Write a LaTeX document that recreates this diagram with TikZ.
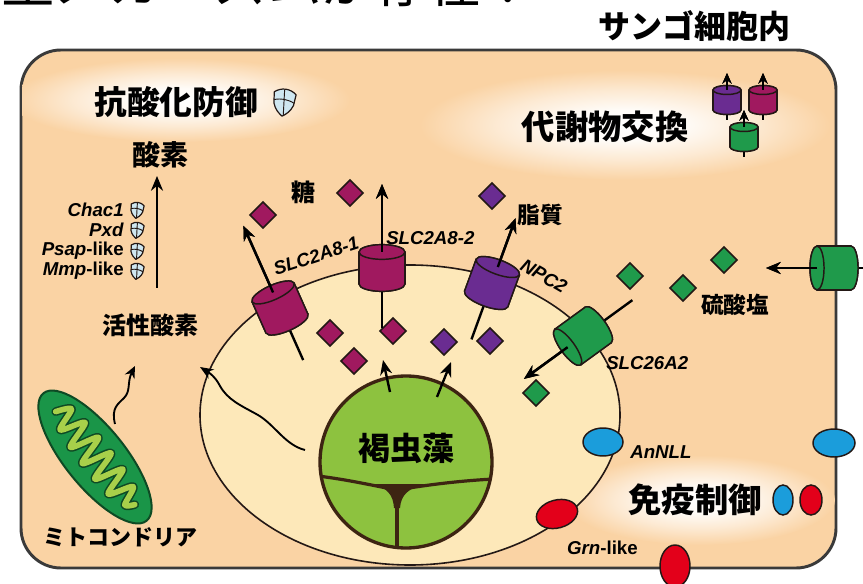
\documentclass[tikz,border=0pt]{standalone}
\usepackage{fontspec}
\setmainfont{Liberation Sans}
\newfontfamily\jp{Noto Sans CJK JP}
\usetikzlibrary{arrows.meta}

\definecolor{cellbg}{HTML}{FAD3A4}
\definecolor{hostbg}{HTML}{FDE8B9}
\definecolor{framec}{HTML}{3A3A3A}
\definecolor{inkdark}{HTML}{231815}
\definecolor{magc}{HTML}{A0195F}
\definecolor{purc}{HTML}{6A2C91}
\definecolor{grnc}{HTML}{1F9A4B}
\definecolor{algaec}{HTML}{8DC23F}
\definecolor{algaeline}{HTML}{3D2412}
\definecolor{mitoc}{HTML}{1A9548}
\definecolor{mitoline}{HTML}{0E4A24}
\definecolor{cristac}{HTML}{A8D04A}
\definecolor{bluec}{HTML}{1B9DDB}
\definecolor{redc}{HTML}{E3001A}
\definecolor{shieldc}{HTML}{CFE7F1}

% radial glow: the path's bounding box maps onto the inner 25bp radius
\pgfdeclareradialshading{glow}{\pgfpoint{0bp}{0bp}}{color(0bp)=(white); color(7bp)=(white!92!cellbg); color(16bp)=(white!50!cellbg); color(25bp)=(cellbg); color(50bp)=(cellbg)}

\newcommand\jpfs[1]{\jp\bfseries\fontsize{#1}{#1}\selectfont}

\tikzset{
  x=0.75pt, y=-0.75pt,
  arr/.style={line width=1.8pt, draw=black, -{Stealth[length=11pt,width=9pt]}},
  smallarr/.style={line width=1.4pt, draw=black, -{Stealth[length=8pt,width=7pt]}},
  cylstroke/.style={draw=inkdark, line width=1.1pt},
  gemstroke/.style={draw=inkdark, line width=1.1pt},
  lbl/.style={inner sep=0pt, text=black},
  latin/.style={lbl, font=\bfseries\itshape\fontsize{14pt}{15pt}\selectfont},
  gene/.style={lbl, anchor=east, font=\bfseries\fontsize{14pt}{15pt}\selectfont},
  pics/cyl/.style n args={5}{code={
    % #1 colour, #2 radius, #3 half height, #4 tail length, #5 tip length
    \coordinate (-top) at (0,-#3);
    \coordinate (-tip) at (0,-#3-#5);
    \coordinate (-tail) at (0,#3+#4);
    \draw[cylstroke, fill=#1] (0,#3) ellipse [x radius=#2, y radius=0.32*#2];
    \fill[#1] (-#2,-#3) rectangle (#2,#3);
    \draw[cylstroke] (-#2,-#3) -- (-#2,#3) (#2,-#3) -- (#2,#3);
    \draw[cylstroke, fill=#1] (0,-#3) ellipse [x radius=#2, y radius=0.32*#2];
  }},
  pics/gem/.style={code={
    \draw[gemstroke, fill=#1] (0,-13) -- (13,0) -- (0,13) -- (-13,0) -- cycle;
  }},
  pics/shield/.style={code={
    \draw[draw=inkdark, line width=0.9pt, fill=shieldc, line join=round]
      (-10,-8) .. controls (-4,-13) and (4,-13) .. (10,-8)
      -- (9,2) .. controls (7,8) and (3,11) .. (0,13)
      .. controls (-3,11) and (-7,8) .. (-9,2) -- cycle;
    \draw[draw=inkdark, line width=0.7pt] (-1,-11.5) -- (1,12) (-9.5,-1) .. controls (-3,-3) and (3,-3) .. (9.5,0);
  }}
}

\begin{document}
\begin{tikzpicture}
\useasboundingbox (0,0) rectangle (863,584);

% heading line cut by the top edge
\node[lbl, anchor=base west, font=\jp\fontsize{40pt}{40pt}\selectfont] (head) at (-52,3) {共生メカニズムが存在！};

% coral cell
\draw[draw=framec, line width=2.2pt, fill=cellbg, rounded corners=30pt] (21,50) rectangle (836,568);

% soft highlights behind the headings, kept inside the cell
\begin{scope}
  \clip[rounded corners=30pt] (22,51) rectangle (835,567);
  \shade[shading=glow] (180,100) ellipse [x radius=170, y radius=42];
  \shade[shading=glow] (625,125) ellipse [x radius=205, y radius=55];
  \shade[shading=glow] (700,500) ellipse [x radius=135, y radius=45];
\end{scope}

% host-derived symbiosome region
\draw[draw=inkdark, line width=1.2pt, fill=hostbg] (410,415) ellipse [x radius=210, y radius=150];

% headings
\node[lbl, font=\jpfs{24pt}] (cellin) at (694,26) {サンゴ細胞内};
\node[lbl, font=\jpfs{24.5pt}] (antiox) at (176,102) {抗酸化防御};
\pic[rotate=-8, scale=1.1] at (284,102) {shield};
\node[lbl, font=\jpfs{25pt}] (metab) at (605,127) {代謝物交換};
\node[lbl, font=\jpfs{25pt}] (immune) at (695,500) {免疫制御};

% oxygen pathway
\node[lbl, font=\jpfs{21pt}] (oxy) at (160,155) {酸素};
\node[lbl, font=\jpfs{18pt}] (ros) at (150,325) {活性酸素};
\coordinate (rosout) at (157,288);
\coordinate (oxyin) at (157,176);
\draw[arr] (rosout) -- (oxyin);

\node[gene] (g1) at (124,210) {\textit{Chac1}};
\node[gene] (g2) at (124,230) {\textit{Pxd}};
\node[gene] (g3) at (124,251) {\textit{Psap}-like};
\node[gene] (g4) at (124,271) {\textit{Mmp}-like};
\foreach \yy in {210,230,251,271} \pic[rotate=-8, scale=0.65] at (137,\yy) {shield};

% mitochondrion
\begin{scope}[shift={(95,457)}, rotate=-51]
  \draw[draw=mitoline, line width=1.5pt, fill=mitoc] (0,0) ellipse [x radius=82, y radius=30];
  \draw[draw=mitoline, line width=6.5pt, line join=round, line cap=round]
    plot[smooth] coordinates {(-60,2) (-52,-12) (-43,10) (-33,-14) (-23,13) (-13,-15) (-3,14) (7,-15) (17,14) (27,-14) (37,13) (47,-11) (56,7) (62,-1)};
  \draw[draw=cristac, line width=4.2pt, line join=round, line cap=round]
    plot[smooth] coordinates {(-60,2) (-52,-12) (-43,10) (-33,-14) (-23,13) (-13,-15) (-3,14) (7,-15) (17,14) (27,-14) (37,13) (47,-11) (56,7) (62,-1)};
\end{scope}
\node[lbl, font=\jpfs{16.5pt}] (mito) at (120,537) {ミトコンドリア};
\coordinate (mitoout) at (115,424);
\coordinate (mitotip) at (135,366);
\draw[line width=1.4pt, -{Stealth[length=9pt,width=8pt]}] (mitoout) .. controls (111,408) and (118,404) .. (124,398) .. controls (131,391) and (127,382) .. (mitotip);

% symbiotic alga
\begin{scope}
  \clip (406,462) circle [radius=86];
  \fill[algaec] (406,462) circle [radius=86];
  \draw[draw=algaeline, line width=2.4pt] (318,476) .. controls (350,480) and (375,486) .. (397,490) .. controls (420,486) and (455,481) .. (494,479);
  \fill[algaeline] (372,484) .. controls (388,488) and (393,495) .. (394,508) -- (400,508) .. controls (401,495) and (408,488) .. (426,484) -- cycle;
  \draw[draw=algaeline, line width=2.4pt] (397,500) -- (397,550);
\end{scope}
\draw[draw=algaeline, line width=2.5pt] (406,462) circle [radius=86];
\node[lbl, font=\jpfs{24pt}] (alga) at (406,448) {褐虫藻};

\coordinate (a1s) at (390,392);
\coordinate (a1e) at (383,360);
\coordinate (a2s) at (437,397);
\coordinate (a2e) at (451,362);
\draw[arr] (a1s) -- (a1e);
\draw[arr] (a2s) -- (a2e);

\coordinate (waves) at (305,450);
\coordinate (wavee) at (200,367);
\draw[line width=1.4pt, -{Stealth[length=10pt,width=8pt]}] (waves) .. controls (285,445) and (275,425) .. (258,415) .. controls (240,405) and (228,400) .. (220,386) .. controls (215,376) and (208,372) .. (wavee);

% sugars and lipids
\node[lbl, font=\jpfs{18pt}] (sugar) at (303,192) {糖};
\node[lbl, font=\jpfs{17pt}] (lipid) at (540,215) {脂質};
\pic at (263,215) {gem=magc};
\pic at (350,193) {gem=magc};
\pic at (492,196) {gem=purc};
\pic at (330,333) {gem=magc};
\pic at (393,331) {gem=magc};
\pic at (354,361) {gem=magc};
\pic at (444,342) {gem=purc};
\pic at (490,341) {gem=purc};

% sulfate
\node[lbl, font=\jpfs{17pt}] (sulf) at (735,305) {硫酸塩};
\pic at (630,276) {gem=grnc};
\pic at (683,288) {gem=grnc};
\pic at (724,260) {gem=grnc};
\pic at (536,393) {gem=grnc};

% transporters
\pic[rotate=24] (t1) at (280,308) {cyl={magc}{23}{17}{40}{73}};
\draw[arr] (t1-tail) -- (t1-tip);
\pic[rotate=24] at (280,308) {cyl={magc}{23}{17}{40}{73}};
\draw[arr] (t1-top) -- (t1-tip);

\pic (t2) at (382,268) {cyl={magc}{23}{16}{44}{68}};
\draw[arr] (t2-tail) -- (t2-tip);
\pic at (382,268) {cyl={magc}{23}{16}{44}{68}};
\draw[arr] (t2-top) -- (t2-tip);

\pic[rotate=-20] (t3) at (492,283) {cyl={purc}{23}{17}{43}{52}};
\draw[arr] (t3-tail) -- (t3-tip);
\pic[rotate=-20] at (492,283) {cyl={purc}{23}{17}{43}{52}};
\draw[arr] (t3-top) -- (t3-tip);

\pic[rotate=126] (t4) at (583,336) {cyl={grnc}{22}{19}{42}{54}};
\draw[arr] (t4-tail) -- (t4-tip);
\pic[rotate=126] at (583,336) {cyl={grnc}{22}{19}{42}{54}};
\draw[arr] (t4-top) -- (t4-tip);

\pic[rotate=90] (t5) at (834,268) {cyl={grnc}{22}{17}{32}{51}};
\draw[arr] (t5-tail) -- (t5-tip);
\pic[rotate=90] at (834,268) {cyl={grnc}{22}{17}{32}{51}};
\draw[arr] (t5-top) -- (t5-tip);

\foreach \nm/\cx/\cy/\cc in {s1/727/100/purc, s2/763/100/magc, s3/744/137/grnc}{
  \pic (\nm) at (\cx,\cy) {cyl={\cc}{14}{10}{10}{17}};
  \draw[smallarr] (\nm-tail) -- (\nm-tip);
  \pic at (\cx,\cy) {cyl={\cc}{14}{10}{10}{17}};
  \draw[smallarr] (\nm-top) -- (\nm-tip);
}

\node[latin, rotate=18] (l1) at (316,256) {SLC2A8-1};
\node[latin, anchor=west] (l2) at (386,238) {SLC2A8-2};
\node[latin, rotate=-30] (l3) at (544,276) {NPC2};
\node[latin, anchor=west] (l4) at (606,363) {SLC26A2};

% immune recognition molecules
\draw[gemstroke, fill=bluec] (603,442) ellipse [x radius=20, y radius=14];
\draw[gemstroke, fill=bluec] (834,443) ellipse [x radius=21, y radius=14];
\draw[gemstroke, fill=bluec] (783,500) ellipse [x radius=10, y radius=15];
\draw[gemstroke, fill=redc] (811,500) ellipse [x radius=11, y radius=15];
\draw[gemstroke, fill=redc, rotate around={15:(557,514)}] (557,514) ellipse [x radius=21, y radius=14];
\draw[gemstroke, fill=redc] (675,566) ellipse [x radius=15, y radius=21];
\node[latin, anchor=west] (annll) at (630,452) {AnNLL};
\node[latin, anchor=east] (grn) at (638,548) {\textit{Grn}\textup{-like}};

\end{tikzpicture}
\end{document}
